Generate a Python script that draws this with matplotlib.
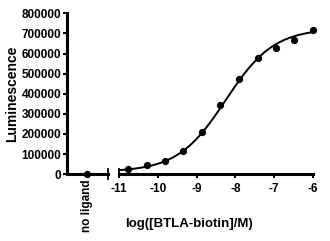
import matplotlib.pyplot as plt
import numpy as np

plt.rcParams['font.family'] = ['Liberation Sans', 'DejaVu Sans']
plt.rcParams['font.weight'] = 'bold'

# dose-response data, 3-fold dilutions
log_conc = [-10.77, -10.29, -9.82, -9.34, -8.86, -8.39, -7.91, -7.43, -6.95, -6.48, -6.0]
lum = [28000, 46000, 66000, 116000, 212000, 343000, 473000, 577000, 628000, 667000, 716000]
no_ligand = [2000]

# 4PL fit parameters
bottom, top, logec50, hill = 12000, 725000, -8.25, 0.7

yticks = [0, 100000, 200000, 300000, 400000, 500000, 600000, 700000, 800000]
xticks = [-11, -10, -9, -8, -7, -6]

fig = plt.figure(figsize=(3.3, 2.41), dpi=100)
axl = fig.add_axes([0.203, 0.277, 0.124, 0.668])
axr = fig.add_axes([0.3606, 0.277, 0.588, 0.668])

lw = 2.2
for ax in (axl, axr):
    ax.set_ylim(0, 800000)
    for s in ('top', 'right'):
        ax.spines[s].set_visible(False)
    ax.spines['bottom'].set_linewidth(lw)
    ax.tick_params(width=1.5, length=3, labelsize=8.5, pad=1)

axl.spines['left'].set_linewidth(lw)
axl.set_yticks(yticks)
axl.set_yticklabels([str(v) for v in yticks])
axl.set_xlim(-1, 1)
axl.set_xticks([0])
axl.set_xticklabels(['no ligand'], rotation=90, fontsize=8.5)
axl.plot([0], no_ligand, 'o', color='black', ms=4.2, clip_on=False)
axl.plot([1, 1], [-0.03, 0.03], color='black', lw=1.3, transform=axl.transAxes, clip_on=False)
axl.set_ylabel('Luminescence', fontsize=10, fontweight='bold', labelpad=2)

axr.spines['left'].set_visible(False)
axr.set_yticks([])
axr.set_xlim(-11, -6)
axr.set_xticks(xticks)
axr.set_xticklabels([str(v) for v in xticks])
axr.tick_params(axis='x', pad=3)
axr.plot([0, 0], [0, 0.03], color='black', lw=1.3, transform=axr.transAxes, clip_on=False)

xc = np.linspace(-11, -6, 200)
yc = bottom + (top - bottom) / (1 + 10 ** ((logec50 - xc) * hill))
axr.plot(xc, yc, color='black', lw=1.4, clip_on=False)
axr.plot(log_conc, lum, 'o', color='black', ms=4.2, clip_on=False)
axr.set_xlabel('log([BTLA-biotin]/M)', fontsize=9.5, fontweight='bold', labelpad=18)
axr.xaxis.set_label_coords(0.36, -0.27)

fig.savefig('out.png', dpi=100)
